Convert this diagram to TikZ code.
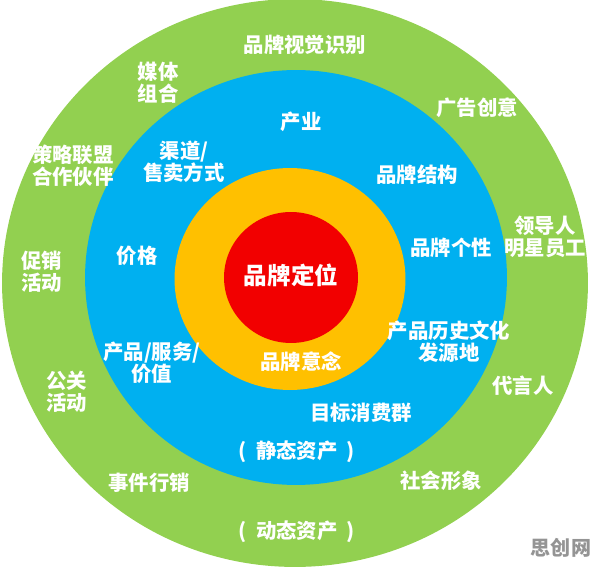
\documentclass[tikz,border=0pt]{standalone}
\usepackage{fontspec}
\newfontfamily\cjk{Noto Sans CJK SC}
\usepackage{tikz}
\definecolor{ringgreen}{HTML}{92D050}
\definecolor{ringblue}{HTML}{00B0F0}
\definecolor{ringorange}{HTML}{FFC000}
\definecolor{ringred}{HTML}{F20000}
\tikzstyle{tag} = [text=white, align=center, inner sep=0pt,
                   font=\cjk\bfseries\fontsize{11.6}{12.4}\selectfont]
\tikzstyle{core} = [tag, font=\cjk\bfseries\fontsize{13.4}{15}\selectfont]
\tikzstyle{wmark} = [text=black!42, inner sep=0pt,
                     font=\cjk\bfseries\fontsize{11.4}{12}\selectfont]

\begin{document}
\begin{tikzpicture}[x=0.02cm, y=-0.02cm]
    \useasboundingbox (0,0) rectangle (596,567);
    \fill [ringgreen] (295,283) ellipse [x radius=5.86cm, y radius=5.68cm];
    \fill [ringblue] (296,277.5) ellipse [x radius=4.22cm, y radius=4.15cm];
    \fill [ringorange] (290,279) ellipse [x radius=2.31cm, y radius=2.22cm];
    \fill [ringred] (291,277.5) ellipse [x radius=1.34cm, y radius=1.31cm];

    \node [core] (core) at (291,275) {品牌定位};
    \node [tag] (idea) at (301,362) {品牌意念};

    \node [tag] (industry) at (301,122) {产业};
    \node [tag] (channel) at (184,162) {渠道/\\售卖方式};
    \node [tag] (structure) at (417,175) {品牌结构};
    \node [tag] (price) at (137,256) {价格};
    \node [tag] (personality) at (451,248) {品牌个性};
    \node [tag] (product) at (152,363) {产品/服务/\\价值};
    \node [tag] (history) at (449,342) {产品历史文化\\发源地};
    \node [tag] (target) at (361,413) {目标消费群};
    \node [tag] (static) at (297,452) {(\hspace{0.45em}静态资产\hspace{0.45em})};

    \node [tag] (visual) at (305,45) {品牌视觉识别};
    \node [tag] (media) at (158,83) {媒体\\组合};
    \node [tag] (advert) at (477,108) {广告创意};
    \node [tag] (alliance) at (73,166) {策略联盟\\合作伙伴};
    \node [tag] (leader) at (545,237) {领导人\\明星员工};
    \node [tag] (promo) at (42,272) {促销\\活动};
    \node [tag] (pr) at (67,392) {公关\\活动};
    \node [tag] (spokesman) at (523,386) {代言人};
    \node [tag] (event) at (149,483) {事件行销};
    \node [tag] (social) at (441,481) {社会形象};
    \node [tag] (dynamic) at (297,532) {(\hspace{0.45em}动态资产\hspace{0.45em})};

    \node [wmark] (site) at (561,548) {思创网};
\end{tikzpicture}
\end{document}
